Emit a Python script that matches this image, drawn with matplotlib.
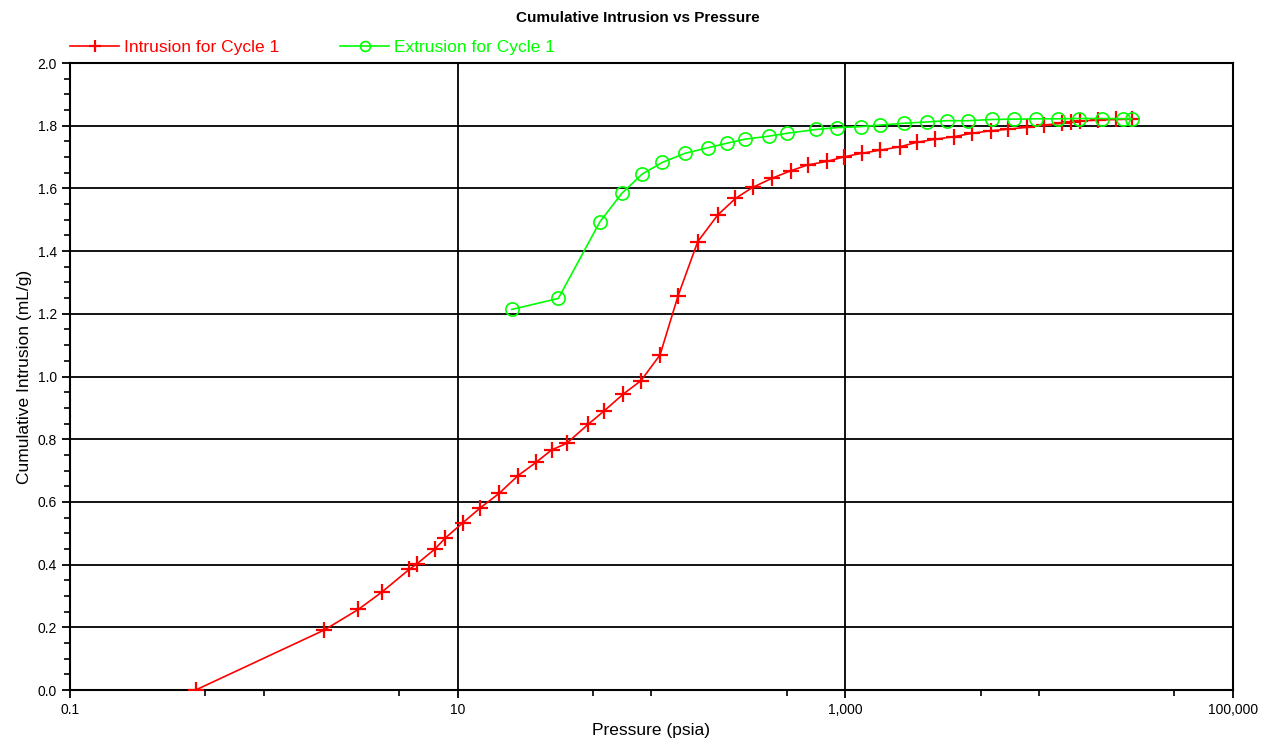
import matplotlib
matplotlib.use('Agg')
import matplotlib.pyplot as plt
from matplotlib.ticker import FixedLocator, FixedFormatter, MultipleLocator, FormatStrFormatter

plt.rcParams['font.family'] = ['Liberation Sans', 'DejaVu Sans']

# intrusion (red) - pressure in psia, cumulative volume in mL/g
intr_p = [0.445, 2.045, 3.074, 4.059, 5.635, 6.152, 7.645, 8.61, 10.62, 13.09,
          16.36, 20.42, 25.38, 30.58, 36.56, 47.25, 56.94, 71.6, 88.4, 110.8,
          137.2, 173.3, 219.8, 271.3, 332.5, 417.6, 522.3, 640.5, 802.5, 989.5,
          1216, 1512, 1918, 2338, 2907, 3642, 4527, 5635, 6944, 8640,
          10650, 13146, 14630, 16277, 20097, 24963, 30088]
intr_v = [0.0, 0.191, 0.257, 0.312, 0.385, 0.402, 0.450, 0.484, 0.533, 0.581,
          0.627, 0.683, 0.726, 0.766, 0.787, 0.848, 0.890, 0.944, 0.987, 1.069,
          1.257, 1.430, 1.515, 1.568, 1.603, 1.632, 1.656, 1.675, 1.686, 1.701,
          1.712, 1.722, 1.733, 1.747, 1.757, 1.765, 1.776, 1.784, 1.789, 1.795,
          1.802, 1.808, 1.811, 1.815, 1.818, 1.820, 1.821]

# extrusion (green)
extr_p = [19.02, 33.08, 54.30, 70.29, 89.74, 113.8, 149.1, 196.7, 244.6, 304.1,
          406.0, 502.5, 707.1, 910.4, 1206, 1512, 2018, 2633, 3339, 4317,
          5741, 7430, 9650, 12490, 16140, 21060, 27030, 30090]
extr_v = [1.214, 1.249, 1.494, 1.584, 1.646, 1.683, 1.712, 1.730, 1.744, 1.757,
          1.767, 1.776, 1.788, 1.794, 1.797, 1.802, 1.808, 1.812, 1.816, 1.816,
          1.820, 1.821, 1.822, 1.822, 1.823, 1.823, 1.822, 1.822]

x_major = [0.1, 10, 1000, 100000]
x_labels = ['0.1', '10', '1,000', '100,000']
x_minor = [0.5, 1, 5, 50, 100, 500, 5000, 10000, 50000]

fig = plt.figure(figsize=(12.75, 7.45), dpi=100)
ax = fig.add_axes([0.0549, 0.0738, 0.912, 0.8416])

ax.plot(intr_p, intr_v, color='#ff0000', lw=1.2, marker='+', ms=11, mew=1.6,
        label='Intrusion for Cycle 1', zorder=3)
ax.plot(extr_p, extr_v, color='#00ff00', lw=1.2, marker='o', ms=9.5, mew=1.2,
        mfc='none', label='Extrusion for Cycle 1', zorder=3)

ax.set_xscale('log')
ax.set_xlim(0.1, 100000)
ax.set_ylim(0, 2.0)

ax.xaxis.set_major_locator(FixedLocator(x_major))
ax.xaxis.set_major_formatter(FixedFormatter(x_labels))
ax.xaxis.set_minor_locator(FixedLocator(x_minor))
ax.xaxis.set_minor_formatter(FixedFormatter([''] * len(x_minor)))
ax.yaxis.set_major_locator(MultipleLocator(0.2))
ax.yaxis.set_minor_locator(MultipleLocator(0.05))
ax.yaxis.set_major_formatter(FormatStrFormatter('%.1f'))

ax.grid(True, which='major', color='black', lw=1.3)
ax.set_axisbelow(True)
for s in ax.spines.values():
    s.set_linewidth(1.5)
ax.tick_params(which='major', direction='out', length=6, width=1.3, labelsize=10)
ax.tick_params(which='minor', direction='out', length=4, width=1.2)

ax.set_xlabel('Pressure (psia)', fontsize=12.5)
ax.set_ylabel('Cumulative Intrusion (mL/g)', fontsize=12.5)
fig.suptitle('Cumulative Intrusion vs Pressure', fontsize=11, fontweight='bold', y=0.985)

fig.legend(loc='upper left', bbox_to_anchor=(0.043, 0.968), ncol=2, frameon=False,
           fontsize=12.5, labelcolor='linecolor', handlelength=2.8, handletextpad=0.3,
           columnspacing=3.5, markerscale=0.75, borderpad=0.4)

fig.savefig('out.png', dpi=100)
